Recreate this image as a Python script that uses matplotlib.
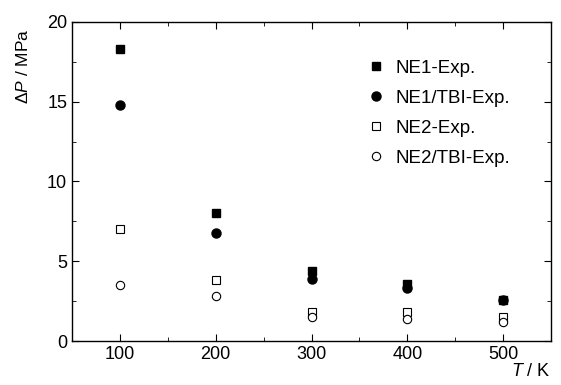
import matplotlib
matplotlib.use('Agg')
from matplotlib import pyplot as plt
from matplotlib.ticker import MultipleLocator

plt.rcParams['font.family'] = ['Liberation Sans', 'DejaVu Sans']
plt.rcParams['mathtext.fontset'] = 'custom'
plt.rcParams['mathtext.rm'] = 'Liberation Sans'
plt.rcParams['mathtext.it'] = 'Liberation Sans:italic'

T = [100, 200, 300, 400, 500]
NE1 = [18.3, 8.0, 4.4, 3.6, 2.6]
NE1_TBI = [14.8, 6.8, 3.9, 3.3, 2.6]
NE2 = [7.0, 3.8, 1.8, 1.8, 1.5]
NE2_TBI = [3.5, 2.8, 1.5, 1.4, 1.2]

fig = plt.figure(figsize=(5.61, 3.85), dpi=100)
ax = fig.add_axes([72 / 561, 1 - 341 / 385, 479 / 561, 319 / 385])

ax.plot(T, NE1, 's', color='black', ms=5.5, label='NE1-Exp.')
ax.plot(T, NE1_TBI, 'o', color='black', ms=6.5, label='NE1/TBI-Exp.')
ax.plot(T, NE2, 's', mfc='white', mec='black', mew=0.8, ms=5.5, label='NE2-Exp.')
ax.plot(T, NE2_TBI, 'o', mfc='white', mec='black', mew=0.8, ms=6, label='NE2/TBI-Exp.')

ax.set_xlim(50, 550)
ax.set_ylim(0, 20)
ax.xaxis.set_major_locator(MultipleLocator(100))
ax.xaxis.set_minor_locator(MultipleLocator(50))
ax.yaxis.set_major_locator(MultipleLocator(5))
ax.yaxis.set_minor_locator(MultipleLocator(2.5))
ax.tick_params(which='both', direction='in', top=True, right=True, labelsize=13)
ax.tick_params(which='major', length=5)
ax.tick_params(which='minor', length=3)
for s in ax.spines.values():
    s.set_linewidth(1.0)

ax.set_ylabel(r'$\Delta P$ / MPa', fontsize=12.5)
ax.yaxis.set_label_coords(-0.085, 0.86)
ax.text(1.0, -0.07, r'$T$ / K', transform=ax.transAxes, ha='right', va='top', fontsize=13)

ax.legend(loc='upper left', bbox_to_anchor=(0.6, 0.905), frameon=False, fontsize=13.5,
          handletextpad=0.5, labelspacing=0.68, handlelength=1.0, borderaxespad=0)

fig.savefig('out.png', dpi=100)
